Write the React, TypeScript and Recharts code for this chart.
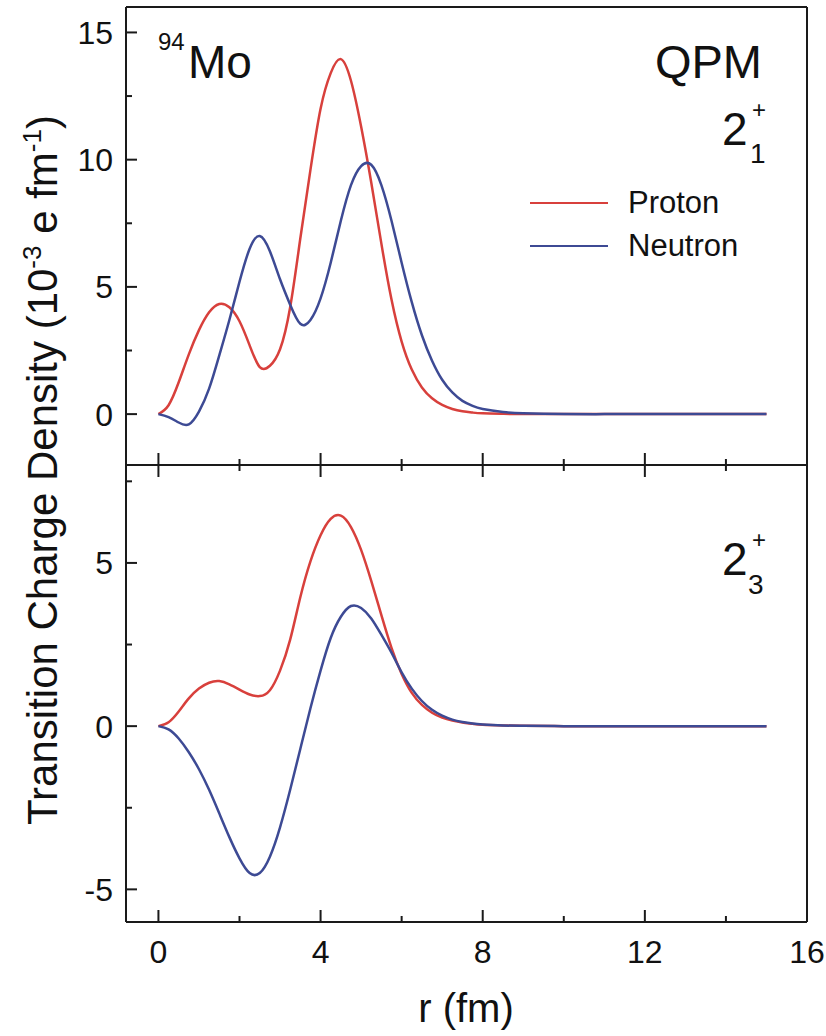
import React from "react";
import { LineChart, Line, XAxis, YAxis, Legend } from "recharts";

// radius (fm)
const rValues = [
  0, 0.25, 0.5, 0.75, 1, 1.25, 1.5, 1.75, 2, 2.25, 2.5, 2.75, 3, 3.25, 3.5, 3.75, 4,
  4.25, 4.5, 4.75, 5, 5.25, 5.5, 5.75, 6, 6.25, 6.5, 6.75, 7, 7.25, 7.5, 7.75, 8,
  8.5, 9, 10, 11, 12, 13, 14, 15,
];

// 2+_1 state (10^-3 e fm^-1)
const protonTop = [
  0, 0.35, 1.25, 2.35, 3.3, 4.0, 4.33, 4.2, 3.65, 2.7, 1.85, 1.9, 2.55, 4.2, 6.9, 9.6, 12.0,
  13.4, 13.95, 13.1, 11.3, 9.1, 6.7, 4.5, 2.85, 1.75, 1.05, 0.62, 0.36, 0.2, 0.11, 0.06, 0.03,
  0.01, 0, 0, 0, 0, 0, 0, 0,
];
const neutronTop = [
  0, -0.12, -0.33, -0.4, 0.1, 1.0, 2.3, 3.7, 5.2, 6.5, 7.0, 6.4, 5.3, 4.3, 3.55, 3.7, 4.55,
  5.95, 7.6, 9.0, 9.75, 9.8, 9.0, 7.6, 5.95, 4.4, 3.1, 2.1, 1.35, 0.85, 0.52, 0.32, 0.2,
  0.08, 0.03, 0, 0, 0, 0, 0, 0,
];

// 2+_3 state
const protonBottom = [
  0, 0.12, 0.45, 0.85, 1.15, 1.33, 1.38, 1.28, 1.12, 0.97, 0.92, 1.1, 1.7, 2.65, 3.95, 5.05, 5.85,
  6.35, 6.45, 6.1, 5.4, 4.45, 3.4, 2.4, 1.6, 1.02, 0.65, 0.41, 0.26, 0.17, 0.11, 0.07, 0.04,
  0.02, 0.01, 0, 0, 0, 0, 0, 0,
];
const neutronBottom = [
  0, -0.1, -0.38, -0.8, -1.32, -1.95, -2.67, -3.4, -4.05, -4.5, -4.5, -4.0, -3.1, -1.95, -0.7, 0.55, 1.7,
  2.7, 3.35, 3.68, 3.62, 3.3, 2.8, 2.25, 1.65, 1.15, 0.77, 0.5, 0.32, 0.2, 0.13, 0.08, 0.05,
  0.02, 0.01, 0, 0, 0, 0, 0, 0,
];

const seriesNames = ["Proton", "Neutron"];
const xTicks = [0, 2, 4, 6, 8, 10, 12, 14, 16];
const topYTicks = [0, 2.5, 5, 7.5, 10, 12.5, 15];
const bottomYTicks = [-5, -2.5, 0, 2.5, 5, 7.5];

const topData = rValues.map((r, i) => ({ r, proton: protonTop[i], neutron: neutronTop[i] }));
const bottomData = rValues.map((r, i) => ({ r, proton: protonBottom[i], neutron: neutronBottom[i] }));

const RED = "#d8403c";
const BLUE = "#3d4a94";
const AXIS = "#1a1a1a";
const FONT = "'Liberation Sans', Arial, Helvetica, sans-serif";

const axisLine = { stroke: AXIS, strokeWidth: 2 };

// inward ticks on a bottom axis (pointing up)
const bottomTick = (showLabel: boolean) => (props: any) => {
  const { x, y, payload } = props;
  const major = payload.value % 4 === 0;
  return (
    <g>
      <line x1={x} x2={x} y1={y} y2={y - (major ? 12 : 6)} stroke={AXIS} strokeWidth={2} />
      {showLabel && major && (
        <text x={x} y={y + 41} textAnchor="middle" fontSize={32} fill="#111" fontFamily={FONT}>
          {payload.value}
        </text>
      )}
    </g>
  );
};

// inward ticks on a top axis (pointing down)
const topTick = (props: any) => {
  const { x, y, payload } = props;
  const major = payload.value % 4 === 0;
  return <line x1={x} x2={x} y1={y} y2={y + (major ? 12 : 6)} stroke={AXIS} strokeWidth={2} />;
};

const leftTick = (props: any) => {
  const { x, y, payload } = props;
  const major = payload.value % 5 === 0;
  return (
    <g>
      <line x1={x} x2={x + (major ? 11 : 6)} y1={y} y2={y} stroke={AXIS} strokeWidth={2} />
      {major && (
        <text x={x - 13} y={y} dy="0.36em" textAnchor="end" fontSize={32} fill="#111" fontFamily={FONT}>
          {payload.value}
        </text>
      )}
    </g>
  );
};

const renderLegend = (props: any) => {
  const items = [...(props.payload || [])].sort(
    (a: any, b: any) => seriesNames.indexOf(a.value) - seriesNames.indexOf(b.value)
  );
  return (
    <div style={{ fontFamily: FONT }}>
      {items.map((item: any) => (
        <div key={item.value} style={{ display: "flex", alignItems: "center", height: 43 }}>
          <div style={{ width: 78, borderTop: `2.5px solid ${item.color}`, marginRight: 20 }} />
          <span style={{ fontSize: 31, color: "#111", lineHeight: 1 }}>{item.value}</span>
        </div>
      ))}
    </div>
  );
};

function Panel({
  data,
  yDomain,
  yTicks,
  height,
  margin,
  bottomLabels,
  topTicks,
  legend,
}: {
  data: any[];
  yDomain: [number, number];
  yTicks: number[];
  height: number;
  margin: { top: number; right: number; bottom: number; left: number };
  bottomLabels: boolean;
  topTicks: boolean;
  legend?: boolean;
}) {
  return (
    <LineChart width={826} height={height} data={data} margin={margin}>
      <XAxis
        xAxisId="b"
        type="number"
        dataKey="r"
        domain={[-0.8, 16]}
        ticks={xTicks}
        interval={0}
        allowDataOverflow
        height={1}
        tickSize={0}
        tickMargin={0}
        tickLine={false}
        axisLine={axisLine}
        tick={bottomTick(bottomLabels)}
      />
      <XAxis
        xAxisId="t"
        orientation="top"
        type="number"
        dataKey="r"
        domain={[-0.8, 16]}
        ticks={xTicks}
        interval={0}
        allowDataOverflow
        height={1}
        tickSize={0}
        tickMargin={0}
        tickLine={false}
        axisLine={axisLine}
        tick={topTicks ? topTick : false}
      />
      <YAxis
        yAxisId="l"
        type="number"
        domain={yDomain}
        ticks={yTicks}
        interval={0}
        allowDataOverflow
        width={126}
        tickSize={0}
        tickMargin={0}
        tickLine={false}
        axisLine={axisLine}
        tick={leftTick}
      />
      <YAxis
        yAxisId="r"
        orientation="right"
        type="number"
        domain={yDomain}
        allowDataOverflow
        width={1}
        tickLine={false}
        tick={false}
        axisLine={axisLine}
      />
      {legend && (
        <Legend
          layout="vertical"
          align="center"
          verticalAlign="middle"
          content={renderLegend}
          wrapperStyle={{ left: 530, top: 181, width: 260 }}
        />
      )}
      <Line
        xAxisId="b"
        yAxisId="l"
        type="natural"
        dataKey="proton"
        name="Proton"
        stroke={RED}
        strokeWidth={2.5}
        dot={false}
        activeDot={false}
        isAnimationActive={false}
      />
      <Line
        xAxisId="t"
        yAxisId="r"
        type="natural"
        dataKey="neutron"
        name="Neutron"
        stroke={BLUE}
        strokeWidth={2.5}
        dot={false}
        activeDot={false}
        isAnimationActive={false}
      />
    </LineChart>
  );
}

export default function App() {
  return (
    <div
      style={{
        position: "absolute",
        left: 0,
        top: 0,
        width: 826,
        height: 1036,
        background: "#fff",
        fontFamily: FONT,
      }}
    >
      <div style={{ position: "absolute", left: 0, top: 0 }}>
        <Panel
          data={topData}
          yDomain={[-2, 16]}
          yTicks={topYTicks}
          height={470}
          margin={{ top: 6, right: 18, bottom: 4, left: 0 }}
          bottomLabels={false}
          topTicks={false}
          legend
        />
      </div>
      <div style={{ position: "absolute", left: 0, top: 458 }}>
        <Panel
          data={bottomData}
          yDomain={[-6, 8]}
          yTicks={bottomYTicks}
          height={578}
          margin={{ top: 6, right: 18, bottom: 113, left: 0 }}
          bottomLabels
          topTicks
        />
      </div>

      <svg
        width={826}
        height={1036}
        style={{ position: "absolute", left: 0, top: 0, pointerEvents: "none" }}
        fontFamily={FONT}
        fill="#111"
      >
        <text x={158} y={50} fontSize={24}>94</text>
        <text x={188} y={78} fontSize={46}>Mo</text>
        <text x={762} y={78} fontSize={47} textAnchor="end">QPM</text>

        <text x={722} y={145} fontSize={46}>2</text>
        <text x={752} y={118} fontSize={24}>+</text>
        <text x={750} y={163} fontSize={28}>1</text>

        <text x={722} y={575} fontSize={46}>2</text>
        <text x={752} y={548} fontSize={24}>+</text>
        <text x={748} y={594} fontSize={28}>3</text>

        <text transform="translate(57,470) rotate(-90)" textAnchor="middle" fontSize={42}>
          Transition Charge Density (10
          <tspan dy={-16} fontSize={26}>-3</tspan>
          <tspan dy={16}> e fm</tspan>
          <tspan dy={-16} fontSize={26}>-1</tspan>
          <tspan dy={16}>)</tspan>
        </text>
        <text x={466} y={1022} textAnchor="middle" fontSize={40}>r (fm)</text>
      </svg>
    </div>
  );
}
